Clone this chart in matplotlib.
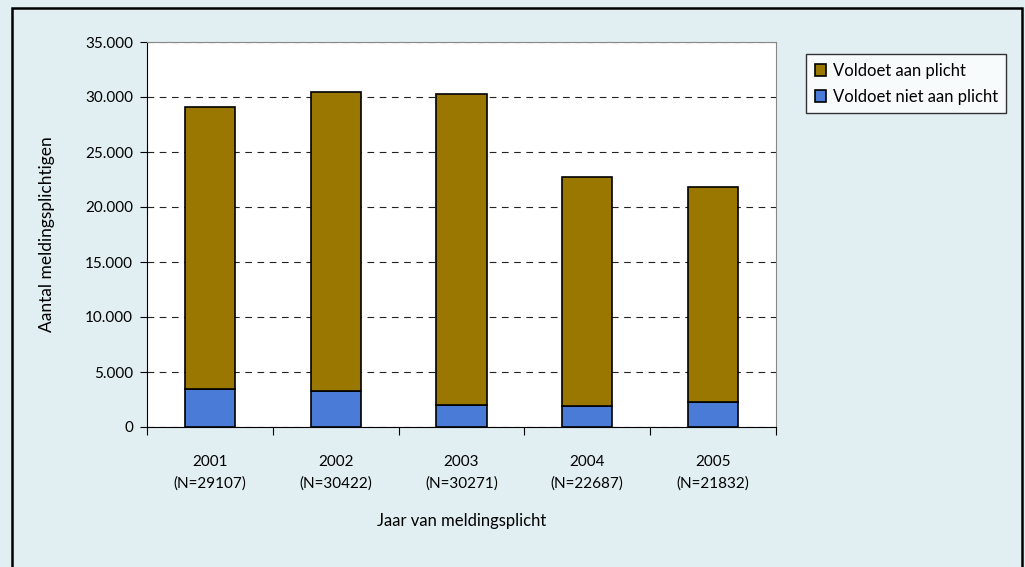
import matplotlib.pyplot as plt
from matplotlib.patches import Rectangle
from matplotlib.ticker import FuncFormatter, MultipleLocator

plt.rcParams['font.family'] = ['Lato', 'DejaVu Sans']

years = ['2001', '2002', '2003', '2004', '2005']
totals = [29107, 30422, 30271, 22687, 21832]
niet_voldoet = [3500, 3260, 2040, 1890, 2290]
voldoet = [t - n for t, n in zip(totals, niet_voldoet)]

brown = '#9A7800'
blue = '#4A7BD6'
bg = '#E1EEF2'

fig = plt.figure(figsize=(10.25, 5.67), dpi=100)
fig.patch.set_facecolor(bg)
# outer frame, bottom edge runs off the image
fig.patches.append(Rectangle((12 / 1025, -0.05), 1010 / 1025, 1.05 - 8 / 567,
                             transform=fig.transFigure, fill=False,
                             edgecolor='black', linewidth=1.8))

ax = fig.add_axes([147 / 1025, 1 - 427 / 567, 629 / 1025, 385 / 567])
x = list(range(len(years)))
ax.bar(x, niet_voldoet, width=0.4, color=blue, edgecolor='black',
       linewidth=1.2, label='Voldoet niet aan plicht', zorder=3)
ax.bar(x, voldoet, width=0.4, bottom=niet_voldoet, color=brown,
       edgecolor='black', linewidth=1.2, label='Voldoet aan plicht', zorder=3)

ax.set_xlim(-0.5, len(years) - 0.5)
ax.set_ylim(0, 35000)
ax.yaxis.set_major_locator(MultipleLocator(5000))
ax.yaxis.set_major_formatter(FuncFormatter(lambda v, p: f'{int(v):,}'.replace(',', '.')))
ax.grid(axis='y', color='#222222', linestyle=(0, (6, 5)), linewidth=0.8, zorder=1)

ax.set_xticks([i - 0.5 for i in range(len(years) + 1)])
ax.set_xticklabels([])
ax.set_xticks(x, minor=True)
ax.set_xticklabels([f'{y}\n(N={t})' for y, t in zip(years, totals)], minor=True,
                   fontsize=11, linespacing=1.7)
ax.tick_params(axis='x', which='minor', length=0, pad=20)
ax.tick_params(axis='x', which='major', length=6, direction='out', color='black')
ax.tick_params(axis='y', length=5, direction='out', labelsize=11, pad=5)

for side in ['top', 'right']:
    ax.spines[side].set_color('#888888')
for side in ['left', 'bottom']:
    ax.spines[side].set_color('black')

ax.set_xlabel('Jaar van meldingsplicht', fontsize=12, labelpad=16)
ax.set_ylabel('Aantal meldingsplichtigen', fontsize=12.5, labelpad=22)

handles, labels = ax.get_legend_handles_labels()
leg = fig.legend(handles[::-1], labels[::-1], loc='upper left',
                 bbox_to_anchor=(798 / 1025, 1 - 46 / 567), fontsize=12,
                 frameon=True, fancybox=False, edgecolor='black',
                 handlelength=0.7, handleheight=0.7, handletextpad=0.4,
                 borderpad=0.5, labelspacing=0.6)
leg.get_frame().set_linewidth(1)

fig.savefig('out.png', dpi=100, facecolor=bg)
